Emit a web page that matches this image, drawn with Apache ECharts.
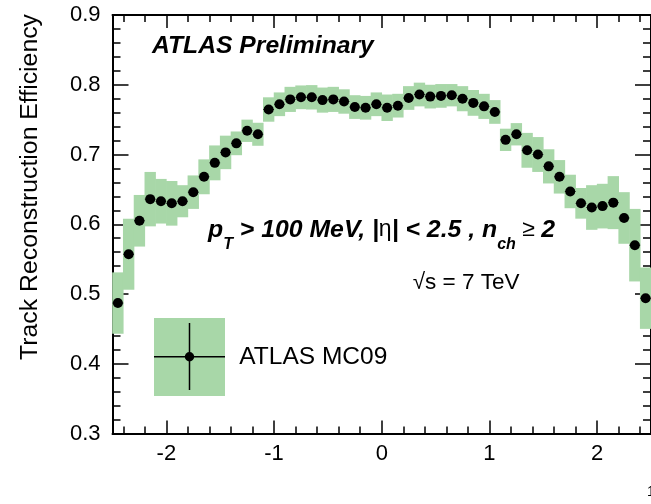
<!DOCTYPE html>
<html><head><meta charset="utf-8">
<script src="https://cdn.jsdelivr.net/npm/echarts@6/dist/echarts.min.js"></script>
<style>html,body{margin:0;padding:0;background:#fff}#c{width:651px;height:504px}</style>
</head><body><div id="c"></div>
<script>
// ---- data ----
const etaCenters = [-2.45,-2.35,-2.25,-2.15,-2.05,-1.95,-1.85,-1.75,-1.65,-1.55,
  -1.45,-1.35,-1.25,-1.15,-1.05,-0.95,-0.85,-0.75,-0.65,-0.55,
  -0.45,-0.35,-0.25,-0.15,-0.05,0.05,0.15,0.25,0.35,0.45,
  0.55,0.65,0.75,0.85,0.95,1.05,1.15,1.25,1.35,1.45,
  1.55,1.65,1.75,1.85,1.95,2.05,2.15,2.25,2.35,2.45];
const efficiency = [0.487,0.557,0.605,0.636,0.633,0.630,0.633,0.646,0.668,0.688,
  0.703,0.716,0.734,0.729,0.7645,0.772,0.779,0.782,0.782,0.778,
  0.779,0.776,0.768,0.767,0.772,0.767,0.770,0.781,0.786,0.783,
  0.784,0.785,0.780,0.774,0.769,0.761,0.721,0.729,0.706,0.700,
  0.683,0.668,0.647,0.630,0.624,0.626,0.631,0.609,0.570,0.494];
const uncertainty = [0.044,0.051,0.037,0.039,0.032,0.032,0.023,0.024,0.025,0.025,
  0.024,0.017,0.016,0.0165,0.0175,0.017,0.018,0.017,0.0175,0.018,
  0.018,0.0175,0.017,0.017,0.017,0.019,0.017,0.017,0.017,0.017,
  0.017,0.016,0.018,0.0185,0.018,0.017,0.016,0.016,0.025,0.025,
  0.0245,0.024,0.024,0.022,0.032,0.032,0.038,0.037,0.052,0.044];
const binHalfWidth = 0.05;
const xMajorTicks = [-2,-1,0,1,2];
const xMinorTicks = [-2.4,-2.2,-1.8,-1.6,-1.4,-1.2,-0.8,-0.6,-0.4,-0.2,0.2,0.4,0.6,0.8,1.2,1.4,1.6,1.8,2.2,2.4];
const legendLabel = 'ATLAS MC09';
const yTitle = 'Track Reconstruction Efficiency';

// ---- chart ----
const GREEN = '#a8d7a8';
const FONT = '"Liberation Sans", Arial, Helvetica, sans-serif';
const pts = etaCenters.map((x, i) => [x, efficiency[i], uncertainty[i]]);
const gridBox = {left: 112.5, top: 15, width: 547, height: 418.5};
const chart = echarts.init(document.getElementById('c'), null, {renderer: 'canvas'});

const xBase = {type: 'value', min: -2.5, max: 2.5, splitLine: {show: false}};
const axLine = {show: true, onZero: false, lineStyle: {color: '#000', width: 2}};
const noLine = {show: false, onZero: false};
const tickStyle = {color: '#000', width: 1.5};

chart.setOption({
  animation: false,
  backgroundColor: '#fff',
  grid: [Object.assign({}, gridBox), Object.assign({}, gridBox)],
  xAxis: [
    Object.assign({}, xBase, {gridIndex: 0, position: 'bottom', axisLine: axLine,
      axisTick: {show: true, inside: true, length: 13, lineStyle: tickStyle, customValues: xMajorTicks},
      axisLabel: {show: true, customValues: xMajorTicks, color: '#000', fontSize: 22, fontFamily: FONT, margin: 9}}),
    Object.assign({}, xBase, {gridIndex: 0, position: 'top', axisLine: axLine,
      axisTick: {show: true, inside: true, length: 13, lineStyle: tickStyle, customValues: xMajorTicks},
      axisLabel: {show: false}}),
    Object.assign({}, xBase, {gridIndex: 1, position: 'bottom', axisLine: noLine,
      axisTick: {show: true, inside: true, length: 7, lineStyle: tickStyle, customValues: xMinorTicks},
      axisLabel: {show: false}}),
    Object.assign({}, xBase, {gridIndex: 1, position: 'top', axisLine: noLine,
      axisTick: {show: true, inside: true, length: 7, lineStyle: tickStyle, customValues: xMinorTicks},
      axisLabel: {show: false}})
  ],
  yAxis: [
    {type: 'value', gridIndex: 0, position: 'left', min: 0.3, max: 0.9, interval: 0.1,
      axisLine: axLine, splitLine: {show: false},
      axisTick: {show: true, inside: true, length: 16, lineStyle: tickStyle},
      minorTick: {show: true, splitNumber: 5, length: 8, lineStyle: tickStyle},
      axisLabel: {color: '#000', fontSize: 22, fontFamily: FONT, margin: 12, padding: [5, 0, 0, 0],
        formatter: v => v.toFixed(1)}},
    {type: 'value', gridIndex: 0, position: 'right', min: 0.3, max: 0.9, interval: 0.1,
      axisLine: axLine, splitLine: {show: false},
      axisTick: {show: true, inside: true, length: 16, lineStyle: tickStyle},
      minorTick: {show: true, splitNumber: 5, length: 8, lineStyle: tickStyle},
      axisLabel: {show: false}},
    {type: 'value', gridIndex: 1, min: 0.3, max: 0.9, show: false, axisLine: noLine}
  ],
  series: [
    {type: 'custom', xAxisIndex: 0, yAxisIndex: 0, data: pts, z: 1,
      renderItem: (params, api) => {
        const x = api.value(0), y = api.value(1), e = api.value(2);
        const p1 = api.coord([x - binHalfWidth, y + e]);
        const p2 = api.coord([x + binHalfWidth, y - e]);
        return {type: 'rect', shape: {x: p1[0] - 0.3, y: p1[1], width: p2[0] - p1[0] + 0.6, height: p2[1] - p1[1]},
          style: {fill: GREEN}};
      }},
    {type: 'custom', xAxisIndex: 0, yAxisIndex: 0, data: pts, z: 2,
      renderItem: (params, api) => {
        const x = api.value(0), y = api.value(1);
        const p1 = api.coord([x - binHalfWidth, y]);
        const p2 = api.coord([x + binHalfWidth, y]);
        return {type: 'line', shape: {x1: p1[0], y1: p1[1], x2: p2[0], y2: p2[1]},
          style: {stroke: '#222', lineWidth: 1}};
      }},
    {type: 'scatter', xAxisIndex: 0, yAxisIndex: 0, data: pts.map(p => [p[0], p[1]]), z: 3,
      symbol: 'circle', symbolSize: 10, itemStyle: {color: '#000', opacity: 1}}
  ],
  graphic: [
    {type: 'text', x: 30, y: 14, rotation: Math.PI / 2,
      style: {text: yTitle, font: '24.8px ' + FONT, fill: '#000', textAlign: 'right', textVerticalAlign: 'middle'}},
    {type: 'text', x: 152, y: 46.5,
      style: {text: 'ATLAS Preliminary', font: 'italic bold 24.7px ' + FONT, fill: '#000', textAlign: 'left', textVerticalAlign: 'middle'}},
    {type: 'text', x: 208, y: 218,
      style: {
        text: '{b|p}{sub|T}{b| > 100 MeV, |}{sym|η}{b|| < 2.5 , n}{sub|ch}{sym| ≥ }{b|2}',
        textAlign: 'left', textVerticalAlign: 'top', fill: '#000',
        rich: {
          b: {font: 'italic bold 24.8px ' + FONT, verticalAlign: 'top', fill: '#000'},
          sym: {font: '23px ' + FONT, verticalAlign: 'top', fill: '#000'},
          sub: {font: 'italic bold 16px ' + FONT, verticalAlign: 'top', padding: [19, 0, 0, 0], fill: '#000'}
        }
      }},
    {type: 'text', x: 412.7, y: 283,
      style: {text: '√s = 7 TeV', font: '22.5px ' + FONT, fill: '#000', textAlign: 'left', textVerticalAlign: 'middle'}},
    {type: 'rect', shape: {x: 154, y: 318, width: 71, height: 78}, style: {fill: GREEN}},
    {type: 'line', shape: {x1: 154, y1: 356.7, x2: 225, y2: 356.7}, style: {stroke: '#000', lineWidth: 1.5}},
    {type: 'line', shape: {x1: 189.5, y1: 323, x2: 189.5, y2: 390}, style: {stroke: '#000', lineWidth: 1.5}},
    {type: 'circle', shape: {cx: 189.5, cy: 356.7, r: 4.7}, style: {fill: '#000'}},
    {type: 'text', x: 239.3, y: 357.5,
      style: {text: legendLabel, font: '24.5px ' + FONT, fill: '#000', textAlign: 'left', textVerticalAlign: 'middle'}},
    {type: 'text', x: 647, y: 491.8,
      style: {text: '1', font: '14px ' + FONT, fill: '#000', textAlign: 'left', textVerticalAlign: 'middle'}}
  ]
});
</script></body></html>
